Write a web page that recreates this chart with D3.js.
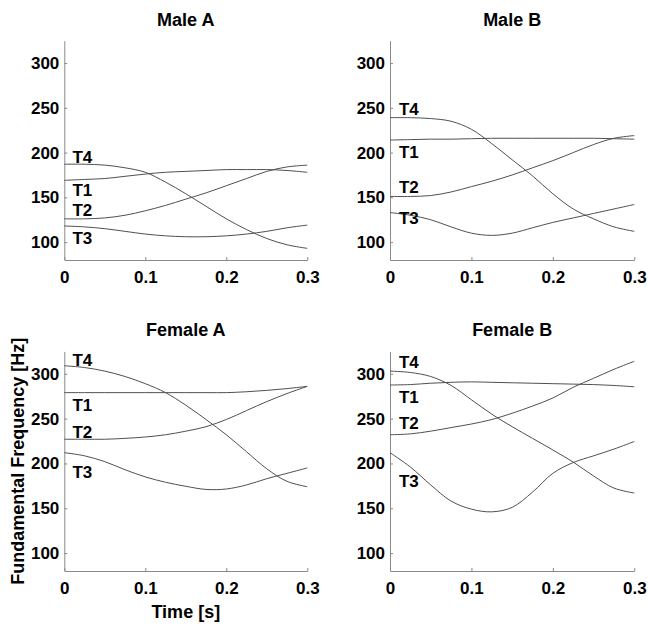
<!DOCTYPE html>
<html>
<head>
<meta charset="utf-8">
<script src="https://cdn.jsdelivr.net/npm/d3@7"></script>
<style>
  body { margin: 0; background: #fff; }
  svg text { font-family: "Liberation Sans", Arial, sans-serif; font-weight: bold; fill: #000; }
  .axis path, .axis line { stroke: #8a8a8a; }
  .f0 { fill: none; stroke: #505050; stroke-width: 1; }
</style>
</head>
<body>
<div id="graphic"></div>
<script>
// time samples (s)
const times = [0, 0.025, 0.05, 0.075, 0.1, 0.125, 0.15, 0.175, 0.2, 0.225, 0.25, 0.275, 0.3];
const tones = ['T1', 'T2', 'T3', 'T4'];
const speakers = ['Male A', 'Male B', 'Female A', 'Female B'];

// F0 contours in Hz, order T1, T2, T3, T4
const maleA = [
  [169, 170, 171, 173.5, 176, 178, 179, 180, 181, 181, 181, 180, 178],
  [126, 126, 127, 130, 135, 141, 148, 155, 163, 171, 179, 184, 186],
  [118, 117, 115, 112, 109, 107, 106, 106, 107, 109, 112, 116, 119],
  [187, 187, 186, 183, 178, 167, 154, 140, 126, 114, 104, 97, 93]
];
const maleB = [
  [214, 214.5, 215, 215, 215.5, 216, 216, 216, 216, 216, 216, 215.5, 215],
  [151, 151, 152, 156, 162, 168, 175, 183, 191, 200, 209, 216, 219],
  [133, 130, 125, 117, 110, 107.5, 110, 116, 122, 127, 132, 137, 142],
  [239, 239, 238, 235, 226, 210, 192, 174, 154, 137, 126, 117, 112]
];
const femaleA = [
  [279, 279, 279, 279, 279, 279, 279, 279, 279, 280, 281.5, 283.5, 286],
  [227, 227, 227, 228, 229.5, 232, 236, 241, 249, 259, 269, 278, 286],
  [212, 208.5, 202, 193, 185, 179, 174.5, 171, 171.5, 176, 183, 189, 195],
  [309, 307, 303, 297, 289, 279, 265, 249, 232, 213, 194, 180, 174]
];
const femaleB = [
  [287.5, 288, 289.5, 290.5, 291, 290.5, 290, 289.5, 289, 288.5, 288, 287, 285.5],
  [232, 233, 236, 240, 244, 249, 256, 264, 273, 285, 295, 305, 314],
  [212, 196, 176, 158, 149, 146, 151, 168, 189, 201, 208.5, 216, 224.5],
  [303, 301.5, 297, 287, 271, 255, 241, 228, 215, 201.5, 186, 172.5, 167]
];

// where the tone labels sit, [time, Hz], order T1..T4
const maleALabels = [[0.01, 158], [0.01, 136], [0.01, 104], [0.01, 195]];
const maleBLabels = [[0.011, 201], [0.011, 161], [0.011, 126.5], [0.011, 248.5]];
const femaleALabels = [[0.01, 265.5], [0.01, 234.5], [0.01, 190], [0.01, 315.5]];
const femaleBLabels = [[0.011, 274.5], [0.011, 245.5], [0.011, 180], [0.011, 313]];

const xTicks = [0, 0.1, 0.2, 0.3];
const yTicks = [100, 150, 200, 250, 300];
const xDomain = [0, 0.3];
const yDomain = [80, 325];

const panelData = [maleA, maleB, femaleA, femaleB];
const panelLabels = [maleALabels, maleBLabels, femaleALabels, femaleBLabels];

// panel boxes in page pixels
const cols = [{ left: 64.3, right: 307.3 }, { left: 390, right: 634.3 }];
const rows = [{ bottom: 260, top: 40.7 }, { bottom: 571, top: 351.4 }];

const svg = d3.select('#graphic').append('svg')
  .attr('width', 648)
  .attr('height', 626);

speakers.forEach((name, i) => {
  const col = cols[i % 2];
  const row = rows[Math.floor(i / 2)];

  const x = d3.scaleLinear().domain(xDomain).range([col.left, col.right]);
  const y = d3.scaleLinear().domain(yDomain).range([row.bottom, row.top]);

  const g = svg.append('g');

  g.append('g')
    .attr('class', 'axis')
    .attr('transform', 'translate(0,' + row.bottom + ')')
    .call(d3.axisBottom(x).tickValues(xTicks).tickSizeInner(-3).tickSizeOuter(0)
      .tickPadding(11).tickFormat(d => d === 0 ? '0' : d3.format('.1f')(d)))
    .call(a => a.selectAll('text').style('font-size', '17px'));

  g.append('g')
    .attr('class', 'axis')
    .attr('transform', 'translate(' + col.left + ',0)')
    .call(d3.axisLeft(y).tickValues(yTicks).tickSizeInner(-3).tickSizeOuter(0).tickPadding(5))
    .call(a => a.selectAll('text').style('font-size', '17px'));

  const line = d3.line()
    .x((d, k) => x(times[k]))
    .y(d => y(d))
    .curve(d3.curveCatmullRom.alpha(0.5));

  g.selectAll('.f0')
    .data(panelData[i])
    .enter()
    .append('path')
    .attr('class', 'f0')
    .attr('d', d => line(d));

  g.selectAll('.tone')
    .data(panelLabels[i])
    .enter()
    .append('text')
    .attr('class', 'tone')
    .attr('x', d => x(d[0]))
    .attr('y', d => y(d[1]))
    .attr('dy', '0.35em')
    .style('font-size', '17px')
    .text((d, k) => tones[k]);

  g.append('text')
    .attr('x', (col.left + col.right) / 2)
    .attr('y', row.top - 15)
    .attr('text-anchor', 'middle')
    .style('font-size', '18px')
    .text(name);
});

// axis titles
svg.append('text')
  .attr('transform', 'translate(24,' + ((rows[1].top + rows[1].bottom) / 2) + ') rotate(-90)')
  .attr('text-anchor', 'middle')
  .style('font-size', '18px')
  .text('Fundamental Frequency [Hz]');

svg.append('text')
  .attr('x', (cols[0].left + cols[0].right) / 2)
  .attr('y', 618)
  .attr('text-anchor', 'middle')
  .style('font-size', '18px')
  .text('Time [s]');
</script>
</body>
</html>
